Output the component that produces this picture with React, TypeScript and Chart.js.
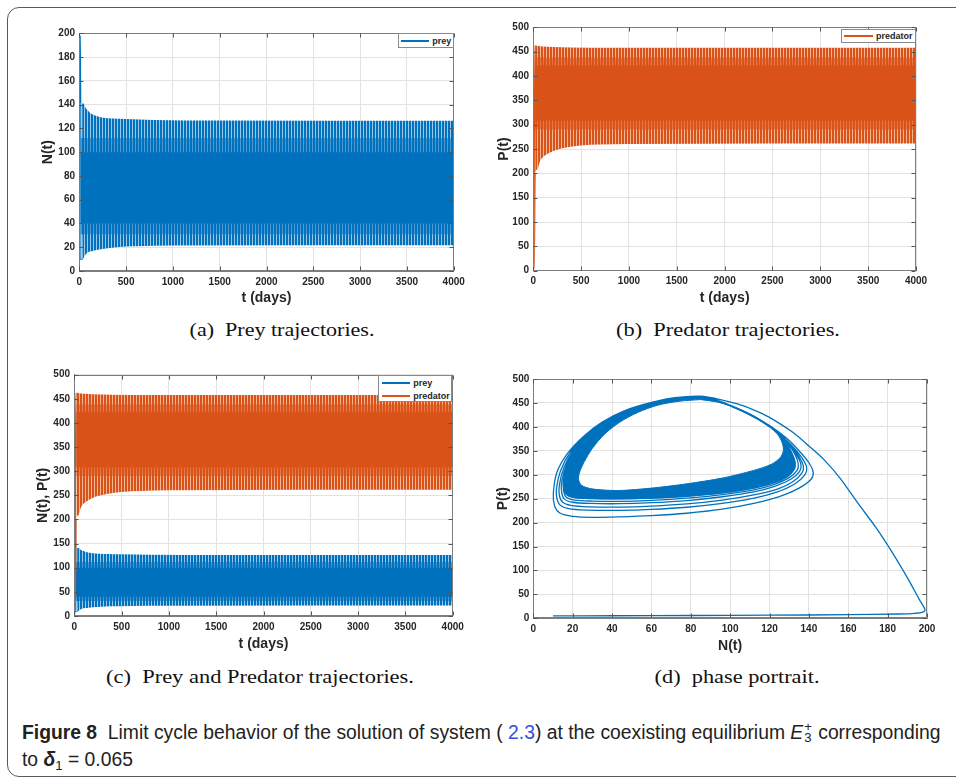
import React, { useEffect, useLayoutEffect, useRef, useState } from 'react';
import { Chart, registerables } from 'chart.js';

Chart.register(...registerables);

// ---------- axis ticks ----------
const TIME_TICKS = [0, 500, 1000, 1500, 2000, 2500, 3000, 3500, 4000];
const PREY_TICKS = [0, 20, 40, 60, 80, 100, 120, 140, 160, 180, 200];
const POP_TICKS = [0, 50, 100, 150, 200, 250, 300, 350, 400, 450, 500];
const N_TICKS = [0, 20, 40, 60, 80, 100, 120, 140, 160, 180, 200];

// ---------- prey N(t): peaks / troughs of the oscillation ----------
const PREY_PEAK_T = [0, 10, 16, 45, 70, 93, 115, 150, 200, 260, 350, 500, 800, 1500, 4000];
const PREY_PEAK_N = [10, 198, 141, 141, 137, 135, 133, 131.5, 130, 129, 128.3, 127.8, 127, 126.6, 126.4];
const PREY_TROUGH_T = [0, 36, 60, 80, 150, 250, 400, 600, 1000, 4000];
const PREY_TROUGH_N = [10, 10, 13, 15, 17, 18.5, 20, 20.8, 21.4, 21.6];
// where the prey curve passes densely (every cycle sweeps through here)
const PREY_MID_T = [14, 4000];
const PREY_MID_HI = [112, 112];
const PREY_MID_LO = [31, 31];
const PREY_CORE_T = [14, 4000];
const PREY_CORE_HI = [100, 100];
const PREY_CORE_LO = [40, 40];

// ---------- predator P(t) ----------
const PRED_PEAK_T = [0, 5, 16, 40, 100, 200, 400, 800, 4000];
const PRED_PEAK_P = [5, 5, 463, 462, 460.5, 459.5, 458.5, 458, 458];
const PRED_TROUGH_T = [0, 10, 20, 42, 70, 100, 150, 200, 260, 350, 500, 700, 1000, 4000];
const PRED_TROUGH_P = [5, 5, 200, 208, 225, 233, 240, 245, 249, 253, 257, 259, 260.5, 261.5];
const PRED_MID_T = [20, 4000];
const PRED_MID_HI = [438, 438];
const PRED_MID_LO = [290, 290];
const PRED_CORE_T = [20, 4000];
const PRED_CORE_HI = [422, 422];
const PRED_CORE_LO = [308, 308];

// ---------- phase portrait (N, P) ----------
const APPROACH: number[][] = [
  [10, 5], [40, 5.3], [80, 5.8], [120, 6.5], [160, 7.5], [185, 9], [194, 10.5], [198, 13], [199, 18],
  [196, 40], [190, 85], [182, 140], [174, 190], [165, 240], [156, 292], [148, 330], [140, 360],
  [132, 388], [124, 410], [116, 428], [106, 445], [95, 457], [85, 464],
];
const LOOP_1: number[][] = [
  [72, 461], [60, 451], [46.5, 434], [35, 410], [25.5, 380], [17.5, 345], [12, 305], [10.2, 262], [10.8, 235],
  [13.5, 220], [20, 213], [30, 211], [44, 212], [60, 214.5], [78, 219.5], [96, 228], [112, 240], [125, 254],
  [135, 272], [141, 290], [142.2, 305], [140, 325], [135, 350], [129, 375], [121, 400], [112, 422], [102, 442],
  [93, 456], [85, 463],
];
const LOOP_2: number[][] = [
  [72, 460.5], [60, 450.5], [47, 433.5], [36, 410], [26.5, 381], [19, 348], [14, 310], [11.8, 272], [11.9, 252],
  [13.5, 237], [18, 229], [27, 226], [44, 225.5], [60, 227.5], [78, 232], [96, 240], [112, 251], [124, 264],
  [133, 281], [138, 300], [138.9, 315], [136.5, 335], [132, 358], [126, 382], [119, 404], [110, 425], [101, 443],
  [92, 456], [85, 463],
];
const LOOP_3: number[][] = [
  [72, 460], [60, 450], [47, 433], [36.5, 410], [27, 381], [20, 349], [15.5, 314], [13.3, 280], [13.2, 258],
  [14.8, 243], [19, 236], [28, 233], [44, 232.5], [60, 234.5], [78, 239], [96, 247], [112, 258], [124, 270],
  [132, 286], [136.5, 304], [137.2, 318], [135, 338], [131, 360], [125, 384], [118, 406], [109, 427], [100, 444],
  [92, 456], [85, 463],
];
const LOOP_4: number[][] = [
  [72, 460], [60, 450], [47.5, 433], [37, 410], [27.5, 381], [20.5, 350], [16.5, 316], [14.4, 285], [14.4, 263],
  [15.8, 249], [20, 242.5], [29, 240], [44, 239.5], [60, 241.5], [78, 246], [96, 254], [112, 264], [123, 276],
  [131, 291], [135.3, 307], [136, 321], [134, 340], [130, 362], [124.5, 386], [117.5, 408], [108.5, 428],
  [99.5, 445], [91.5, 456], [85, 463],
];
const LOOP_5: number[][] = [
  [72, 460], [60, 450], [47.5, 433], [37.5, 410], [28, 381], [21, 350], [17.2, 318], [15.3, 288], [15.4, 267],
  [16.8, 253], [21, 247], [30, 245], [44, 244.5], [60, 246.5], [78, 251], [96, 258.5], [112, 268.5], [122.5, 280],
  [130, 294], [134, 309], [134.6, 323], [133, 342], [129.5, 364], [124, 388], [117, 409], [108, 429], [99, 446],
  [91, 456.5], [85, 463],
];
// limit cycle: outer and inner edge of the densely wound band
const CYCLE_OUTER: number[][] = [
  [85, 463.5], [72, 460], [60, 450], [48, 433], [38, 410], [28.5, 381], [21.5, 350], [17.8, 320], [16, 292],
  [15.8, 272], [17, 258], [21, 252], [30, 250], [44, 249.5], [60, 251], [78, 255], [96, 262], [112, 272], [122, 283],
  [129, 296], [132.5, 311], [133, 325], [131.5, 344], [128.5, 366], [123.5, 389], [116.5, 410], [107.5, 430],
  [98.5, 446.5], [91, 457], [85, 463.5],
];
const CYCLE_INNER: number[][] = [
  [85, 457], [74, 453.5], [63, 445], [53, 430], [44, 410], [36, 384], [30, 355], [26, 328], [23.5, 305], [23, 290],
  [24.5, 278], [29, 271], [36, 268], [44, 267], [60, 272], [78, 281], [96, 293], [112, 309], [121, 322],
  [125.5, 336], [127, 350], [126.5, 366], [124, 385], [119, 404], [112, 423], [103, 440], [94, 451.5], [85, 457],
];

// ---------- style ----------
const BLUE = '#0072BD';
const ORANGE = '#D95319';
const INK = '#262626';
const GRID = '#e2e2e2';
const FRAME = '#7d7d7d';
const SANS = '"Liberation Sans", Arial, Helvetica, sans-serif';
const TICK_FONT = { family: SANS, size: 10, weight: 'bold' as const };
const TITLE_FONT = { family: SANS, size: 14, weight: 'bold' as const };

const pts = (xs: number[], ys: number[]) => xs.map((x, i) => ({ x, y: ys[i] }));
const pairs = (list: number[][]) => list.map(([x, y]) => ({ x, y }));

// fine vertical hatching used for the sparsely covered edges of an oscillation band
function stripes(color: string, light: string) {
  const c = document.createElement('canvas');
  c.width = 3;
  c.height = 1;
  const g = c.getContext('2d')!;
  g.fillStyle = color;
  g.fillRect(0, 0, 3, 1);
  g.fillStyle = light;
  g.fillRect(2, 0, 1, 1);
  return g.createPattern(c, 'repeat');
}

type Band = {
  peakT: number[]; peakV: number[]; troughT: number[]; troughV: number[];
  midT: number[]; midHi: number[]; midLo: number[];
  coreT: number[]; coreHi: number[]; coreLo: number[];
  color: string; pale: string; tint: string; peakSegs: number; troughSegs: number;
};

// an oscillating series drawn as its envelope, shaded darker where the curve passes densely
function bandSets(b: Band) {
  const base = { pointRadius: 0, cubicInterpolationMode: 'monotone' as const };
  const edge = (n: number) => ({
    borderColor: b.color, borderWidth: 1.2,
    segment: { borderColor: (c: any) => (c.p0DataIndex < n ? b.color : 'rgba(0,0,0,0)') },
  });
  return [
    { ...base, data: pts(b.coreT, b.coreHi), fill: '+1', backgroundColor: b.color, borderWidth: 0 },
    { ...base, data: pts(b.coreT, b.coreLo), fill: false, borderWidth: 0 },
    { ...base, data: pts(b.midT, b.midHi), fill: '+1', backgroundColor: stripes(b.color, b.tint), borderWidth: 0 },
    { ...base, data: pts(b.midT, b.midLo), fill: false, borderWidth: 0 },
    { ...base, data: pts(b.peakT, b.peakV), fill: '+1', backgroundColor: stripes(b.color, b.pale), ...edge(b.peakSegs) },
    { ...base, data: pts(b.troughT, b.troughV), fill: false, ...edge(b.troughSegs) },
  ];
}

const PREY_BAND: Band = {
  peakT: PREY_PEAK_T, peakV: PREY_PEAK_N, troughT: PREY_TROUGH_T, troughV: PREY_TROUGH_N,
  midT: PREY_MID_T, midHi: PREY_MID_HI, midLo: PREY_MID_LO,
  coreT: PREY_CORE_T, coreHi: PREY_CORE_HI, coreLo: PREY_CORE_LO,
  color: BLUE, pale: '#9ec7e8', tint: '#4a97d2', peakSegs: 2, troughSegs: 1,
};
const PRED_BAND: Band = {
  peakT: PRED_PEAK_T, peakV: PRED_PEAK_P, troughT: PRED_TROUGH_T, troughV: PRED_TROUGH_P,
  midT: PRED_MID_T, midHi: PRED_MID_HI, midLo: PRED_MID_LO,
  coreT: PRED_CORE_T, coreHi: PRED_CORE_HI, coreLo: PRED_CORE_LO,
  color: ORANGE, pale: '#f2b597', tint: '#e5794a', peakSegs: 2, troughSegs: 2,
};

function axis(ticks: number[], title: string, size: number, horizontal: boolean, pad: number) {
  return {
    type: 'linear',
    min: ticks[0],
    max: ticks[ticks.length - 1],
    afterBuildTicks: (s: any) => { s.ticks = ticks.map((v) => ({ value: v })); },
    afterFit: (s: any) => { if (horizontal) s.height = size; else s.width = size; },
    ticks: {
      autoSkip: false, maxRotation: 0, minRotation: 0, padding: pad, color: INK, font: TICK_FONT,
      callback: (v: any) => String(v),
    },
    grid: { color: GRID, lineWidth: 1, drawTicks: false },
    border: { display: true, color: FRAME, width: 1 },
    title: { display: true, text: title, color: INK, font: TITLE_FONT, padding: 0 },
  };
}

// closed axes box with short inward ticks on all four sides
const boxPlugin = {
  id: 'boxTicks',
  afterDraw(chart: any) {
    const { ctx, chartArea: a, scales } = chart;
    const L = Math.round(a.left) + 0.5, R = Math.round(a.right) - 0.5;
    const T = Math.round(a.top) + 0.5, B = Math.round(a.bottom) - 0.5;
    ctx.save();
    ctx.strokeStyle = FRAME;
    ctx.lineWidth = 1;
    ctx.strokeRect(L, T, R - L, B - T);
    ctx.strokeStyle = '#555';
    ctx.beginPath();
    for (const t of scales.x.ticks) {
      const px = Math.round(scales.x.getPixelForValue(t.value)) + 0.5;
      ctx.moveTo(px, B); ctx.lineTo(px, B - 4);
      ctx.moveTo(px, T); ctx.lineTo(px, T + 4);
    }
    for (const t of scales.y.ticks) {
      const py = Math.round(scales.y.getPixelForValue(t.value)) + 0.5;
      ctx.moveTo(L, py); ctx.lineTo(L + 4, py);
      ctx.moveTo(R, py); ctx.lineTo(R - 4, py);
    }
    ctx.stroke();
    ctx.restore();
  },
};

type Panel = {
  left: number; top: number; width: number; height: number;
  plot: { l: number; t: number; r: number; b: number };
  xTicks: number[]; xTitle: string; yTicks: number[]; yTitle: string;
  xPad: number; yPad: number;
  datasets: () => any[];
};

function ChartPanel({ p }: { p: Panel }) {
  const ref = useRef<HTMLCanvasElement>(null);
  useEffect(() => {
    const yW = p.plot.l - p.left;
    const xH = p.top + p.height - p.plot.b;
    const chart = new Chart(ref.current!, {
      type: 'line',
      data: { datasets: p.datasets() },
      options: {
        animation: false,
        responsive: false,
        events: [],
        layout: { padding: { left: 0, bottom: 0, top: p.plot.t - p.top, right: p.left + p.width - p.plot.r } },
        plugins: { legend: { display: false }, tooltip: { enabled: false } },
        scales: {
          x: axis(p.xTicks, p.xTitle, xH, true, p.xPad),
          y: axis(p.yTicks, p.yTitle, yW, false, p.yPad),
        },
      } as any,
      plugins: [boxPlugin],
    });
    return () => chart.destroy();
  }, []);
  return (
    <canvas
      ref={ref}
      width={p.width}
      height={p.height}
      style={{ position: 'absolute', left: p.left, top: p.top, width: p.width, height: p.height }}
    />
  );
}

const PANEL_A: Panel = {
  left: 40, top: 22, width: 430, height: 285,
  plot: { l: 79.3, t: 33.3, r: 453.7, b: 271 },
  xTicks: TIME_TICKS, xTitle: 't (days)', yTicks: PREY_TICKS, yTitle: 'N(t)', xPad: 5, yPad: 4.3,
  datasets: () => bandSets(PREY_BAND),
};

const PANEL_B: Panel = {
  left: 496, top: 17, width: 439, height: 290,
  plot: { l: 533.3, t: 27.3, r: 916, b: 270.7 },
  xTicks: TIME_TICKS, xTitle: 't (days)', yTicks: POP_TICKS, yTitle: 'P(t)', xPad: 5, yPad: 4.3,
  datasets: () => bandSets(PRED_BAND),
};

const PANEL_C: Panel = {
  left: 35, top: 364, width: 435, height: 289,
  plot: { l: 74.3, t: 374.7, r: 452.7, b: 616 },
  xTicks: TIME_TICKS, xTitle: 't (days)', yTicks: POP_TICKS, yTitle: 'N(t), P(t)', xPad: 5, yPad: 4.3,
  datasets: () => [...bandSets(PRED_BAND), ...bandSets(PREY_BAND)],
};

const PANEL_D: Panel = {
  left: 495, top: 368, width: 455, height: 287,
  plot: { l: 533.3, t: 379, r: 927, b: 618.3 },
  xTicks: N_TICKS, xTitle: 'N(t)', yTicks: POP_TICKS, yTitle: 'P(t)', xPad: 5, yPad: 4,
  datasets: () => {
    const base = { pointRadius: 0, tension: 0.3, borderColor: BLUE, clip: false };
    return [
      {
        ...base, borderWidth: 1.3, fill: false,
        data: pairs([...APPROACH, ...LOOP_1, ...LOOP_2, ...LOOP_3, ...LOOP_4, ...LOOP_5, ...CYCLE_OUTER]),
      },
      { ...base, borderWidth: 1, fill: false, data: pairs(CYCLE_OUTER) },
      { ...base, borderWidth: 1, fill: false, data: pairs(CYCLE_INNER) },
      {
        ...base, borderWidth: 0, fill: 'shape', backgroundColor: BLUE,
        data: pairs([...CYCLE_OUTER, ...CYCLE_INNER.slice().reverse()]),
      },
    ];
  },
};

// ---------- legends ----------
type LegendItem = { label: string; color: string; y: number };
function Legend({ x1, y1, x2, y2, lineX1, lineX2, textX, items }: {
  x1: number; y1: number; x2: number; y2: number; lineX1: number; lineX2: number; textX: number; items: LegendItem[];
}) {
  return (
    <>
      <div style={{
        position: 'absolute', left: x1, top: y1, width: x2 - x1, height: y2 - y1,
        boxSizing: 'border-box', border: '1px solid #8a8a8a', background: '#fff',
      }} />
      {items.map((it) => (
        <React.Fragment key={it.label}>
          <div style={{ position: 'absolute', left: lineX1, top: it.y - 1, width: lineX2 - lineX1, height: 2, background: it.color }} />
          <div style={{
            position: 'absolute', left: textX, top: it.y, transform: 'translateY(-50%)',
            font: `bold 9px ${SANS}`, color: INK, lineHeight: '10px', whiteSpace: 'pre',
          }}>{it.label}</div>
        </React.Fragment>
      ))}
    </>
  );
}

// ---------- text fitted to a given width ----------
function Fit({ cx, cy, w, style, children }: { cx: number; cy: number; w: number; style?: React.CSSProperties; children: React.ReactNode }) {
  const ref = useRef<HTMLDivElement>(null);
  const [s, setS] = useState(1);
  useLayoutEffect(() => {
    const el = ref.current;
    if (el && el.offsetWidth > 0) setS(w / el.offsetWidth);
  }, [w]);
  return (
    <div ref={ref} style={{
      position: 'absolute', left: cx, top: cy, width: 'max-content', whiteSpace: 'pre',
      transformOrigin: 'center center', transform: `translate(-50%, -50%) scaleX(${s})`, ...style,
    }}>{children}</div>
  );
}

const SERIF = '"Liberation Serif", "DejaVu Serif", serif';
const SUBCAPTION: React.CSSProperties = { font: `18px ${SERIF}`, color: '#111', lineHeight: '20px' };
const CAP_FONT = '"Liberation Sans Narrow", "Liberation Sans", Arial, sans-serif';

function FigureCaption() {
  const ref = useRef<HTMLDivElement>(null);
  const [s, setS] = useState(1);
  useLayoutEffect(() => {
    const el = ref.current;
    if (el && el.offsetWidth > 0) setS(919 / el.offsetWidth);
  }, []);
  const line: React.CSSProperties = {
    position: 'absolute', left: 22, width: 'max-content', whiteSpace: 'pre', transformOrigin: 'left center',
    font: `20px ${CAP_FONT}`, color: '#222', lineHeight: '22px',
  };
  return (
    <>
      <div ref={ref} style={{ ...line, top: 731, transform: `translateY(-50%) scaleX(${s})` }}>
        <b>Figure 8</b>{'  Limit cycle behavior of the solution of system ( '}
        <span style={{ color: '#3050e0' }}>2.3</span>
        {') at the coexisting equilibrium '}
        <i>E</i>
        <span style={{ display: 'inline-block', position: 'relative', width: '0.5em', height: '1em' }}>
          <span style={{ position: 'absolute', left: 1, top: '-0.25em', fontSize: '0.68em' }}>+</span>
          <span style={{ position: 'absolute', left: 1, top: '0.62em', fontSize: '0.68em' }}>3</span>
        </span>
        {' corresponding'}
      </div>
      <div style={{ ...line, top: 760, transform: `translateY(-50%) scaleX(${s})` }}>
        {'to '}<b><i>δ</i></b><span style={{ fontSize: '0.68em', position: 'relative', top: '0.3em' }}>1</span>{' = 0.065'}
      </div>
    </>
  );
}

export default function App() {
  return (
    <div style={{ position: 'fixed', left: 0, top: 0, width: 956, height: 780, overflow: 'hidden', background: '#fff' }}>
      <div style={{
        position: 'absolute', left: 7, top: 7, width: 1000, height: 770, boxSizing: 'border-box',
        border: '1.3px solid #5a5a5a', borderRadius: 12,
      }} />
      <ChartPanel p={PANEL_A} />
      <ChartPanel p={PANEL_B} />
      <ChartPanel p={PANEL_C} />
      <ChartPanel p={PANEL_D} />

      <Legend x1={397.7} y1={33.3} x2={453.7} y2={48} lineX1={401} lineX2={429.3} textX={432.3}
        items={[{ label: 'prey', color: BLUE, y: 41 }]} />
      <Legend x1={840.7} y1={29} x2={915.7} y2={43.3} lineX1={844} lineX2={872.7} textX={876}
        items={[{ label: 'predator', color: ORANGE, y: 36.3 }]} />
      <Legend x1={378.3} y1={375.3} x2={452.3} y2={402} lineX1={381.7} lineX2={410} textX={413.3}
        items={[{ label: 'prey', color: BLUE, y: 382.7 }, { label: 'predator', color: ORANGE, y: 396 }]} />

      <Fit cx={281.5} cy={330} w={185} style={SUBCAPTION}>{'(a)  Prey trajectories.'}</Fit>
      <Fit cx={728} cy={330} w={224} style={SUBCAPTION}>{'(b)  Predator trajectories.'}</Fit>
      <Fit cx={260} cy={677} w={308} style={SUBCAPTION}>{'(c)  Prey and Predator trajectories.'}</Fit>
      <Fit cx={736.5} cy={677} w={165} style={SUBCAPTION}>{'(d)  phase portrait.'}</Fit>

      <FigureCaption />
    </div>
  );
}
